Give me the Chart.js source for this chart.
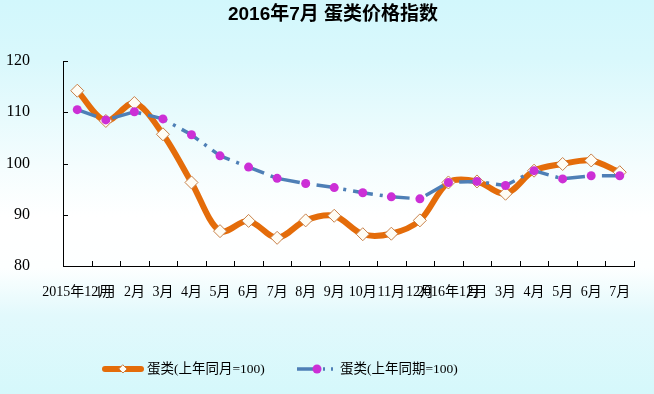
<!DOCTYPE html>
<html>
<head>
<meta charset="utf-8">
<script src="https://cdn.jsdelivr.net/npm/chart.js@4"></script>
<style>
  html,body{margin:0;padding:0;background:#d6f8fb;}
  #wrap{width:654px;height:394px;}
</style>
</head>
<body>
<div id="wrap"><canvas id="c" width="654" height="394"></canvas></div>
<script>
// x labels, as printed on the reference (neighbours overlap there too)
const months = ['2015年12月','1月','2月','3月','4月','5月','6月','7月','8月','9月','10月','11月','12月',
  '2016年1月','2月','3月','4月','5月','6月','7月'];
// 蛋类(上年同月=100)
const sameMonth = [114.2,108.3,111.8,105.7,96.3,86.8,88.8,85.5,88.9,89.8,86.2,86.3,88.9,96.3,96.5,94.1,98.6,99.9,100.6,98.3];
// 蛋类(上年同期=100)
const samePeriod = [110.5,108.5,110.1,108.7,105.6,101.5,99.3,97.1,96.1,95.3,94.3,93.5,93.1,96.3,96.5,95.7,98.6,97.0,97.6,97.6];
const yTicks = [80,90,100,110,120];

const ORANGE = '#e46c0a', BLUE = '#4e7fb6', MAGENTA = '#cc2fd6';
const tickFont = "'Liberation Serif','Noto Sans CJK SC',serif";
const cjkFont = "'Liberation Serif','Noto Sans CJK SC',sans-serif";

// page background: cyan top & bottom, white around the lower plot
const bgPlugin = {
  id:'bg',
  beforeDraw(chart){
    const {ctx,width,height} = chart;
    const g = ctx.createLinearGradient(0,0,0,height);
    g.addColorStop(0,'#d2f7fc');
    g.addColorStop(0.15,'#d9f8fc');
    g.addColorStop(0.42,'#f4fdfe');
    g.addColorStop(0.55,'#ffffff');
    g.addColorStop(0.68,'#fdffff');
    g.addColorStop(0.8,'#e2f9fc');
    g.addColorStop(1,'#d5f8fb');
    ctx.save(); ctx.fillStyle=g; ctx.fillRect(0,0,width,height); ctx.restore();
  }
};

// short tick marks pointing into the plot
const innerTicks = {
  id:'innerTicks',
  beforeDatasetsDraw(chart){
    const {ctx} = chart, x = chart.scales.x, y = chart.scales.y;
    ctx.save(); ctx.strokeStyle='#000'; ctx.lineWidth=1; ctx.beginPath();
    const n = months.length, step = (x.right-x.left)/n;
    for(let i=1;i<=n;i++){ const px=Math.round(x.left+i*step)+0.5; ctx.moveTo(px,x.top); ctx.lineTo(px,x.top-5); }
    y.ticks.forEach(t=>{ const py=Math.round(y.getPixelForValue(t.value))+0.5; ctx.moveTo(y.right,py); ctx.lineTo(y.right+5,py); });
    ctx.stroke(); ctx.restore();
  }
};

// title + legend drawn by hand (title is centred on the page, not the plot)
const textPlugin = {
  id:'texts',
  afterDraw(chart){
    const {ctx} = chart, ly = 369;
    ctx.save();
    ctx.fillStyle='#000'; ctx.textAlign='center'; ctx.textBaseline='middle';
    ctx.font="bold 19px 'Liberation Sans','Noto Sans CJK SC',sans-serif";
    ctx.fillText('2016年7月 蛋类价格指数',333,15);

    ctx.lineCap='round';
    ctx.strokeStyle=ORANGE; ctx.lineWidth=6;
    ctx.beginPath(); ctx.moveTo(105,ly); ctx.lineTo(141,ly); ctx.stroke();
    ctx.fillStyle='#fffdf5'; ctx.strokeStyle='#c8814a'; ctx.lineWidth=1;
    ctx.beginPath(); ctx.moveTo(123,ly-4); ctx.lineTo(127,ly); ctx.lineTo(123,ly+4); ctx.lineTo(119,ly); ctx.closePath(); ctx.fill(); ctx.stroke();

    ctx.lineCap='butt';
    ctx.strokeStyle=BLUE; ctx.lineWidth=3.5; ctx.setLineDash([20,6,2,6,2,6]);
    ctx.beginPath(); ctx.moveTo(297,ly); ctx.lineTo(337,ly); ctx.stroke();
    ctx.setLineDash([]);
    ctx.fillStyle=MAGENTA; ctx.beginPath(); ctx.arc(317,ly,4.5,0,Math.PI*2); ctx.fill();

    ctx.fillStyle='#000'; ctx.font="13.5px "+cjkFont; ctx.textAlign='left';
    ctx.fillText('蛋类(上年同月=100)',147,ly);
    ctx.fillText('蛋类(上年同期=100)',340,ly);
    ctx.restore();
  }
};

new Chart(document.getElementById('c'),{
  type:'line',
  data:{
    labels:months,
    datasets:[
      {label:'蛋类(上年同月=100)',data:sameMonth,borderColor:ORANGE,borderWidth:6,tension:0.32,
       pointStyle:'rectRot',pointRadius:6.5,pointBackgroundColor:'#fffdf5',pointBorderColor:'#c8814a',pointBorderWidth:1,order:2},
      {label:'蛋类(上年同期=100)',data:samePeriod,borderColor:BLUE,borderWidth:3.5,tension:0,
       borderDash:[20,7,3,7],pointStyle:'circle',pointRadius:4.5,pointBackgroundColor:MAGENTA,pointBorderWidth:0,order:1}
    ]
  },
  options:{
    responsive:false,
    animation:false,
    layout:{padding:{left:0,right:20,top:61,bottom:0}},
    plugins:{
      legend:{display:false},
      tooltip:{enabled:false},
      title:{display:false}
    },
    scales:{
      x:{
        offset:true,
        grid:{display:false},
        border:{display:true,color:'#000',width:1},
        ticks:{autoSkip:false,maxRotation:0,minRotation:0,color:'#000',padding:10,font:{family:tickFont,size:14}},
        afterFit(s){ s.height=128; }
      },
      y:{
        min:80,max:120,
        afterBuildTicks(s){ s.ticks = yTicks.map(v=>({value:v})); },
        grid:{display:false},
        border:{display:true,color:'#000',width:1},
        ticks:{color:'#000',padding:25,font:{family:tickFont,size:16}},
        afterFit(s){ s.width=63; }
      }
    }
  },
  plugins:[bgPlugin,innerTicks,textPlugin]
});
</script>
</body>
</html>
